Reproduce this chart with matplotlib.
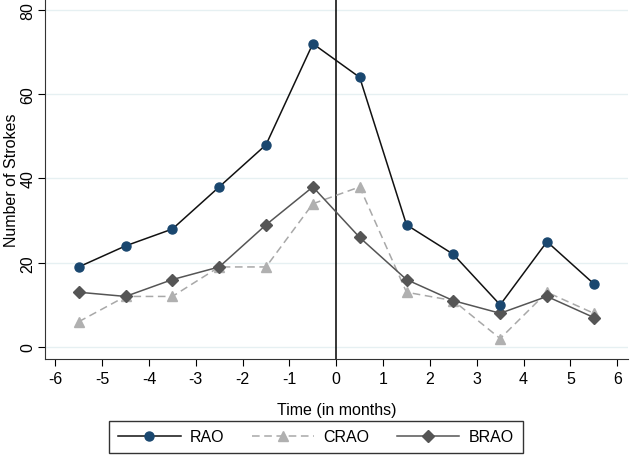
import numpy as np
import matplotlib
matplotlib.use("Agg")
import matplotlib.pyplot as plt

plt.rcParams['font.family'] = ['Liberation Sans', 'DejaVu Sans']

months = [-5.5, -4.5, -3.5, -2.5, -1.5, -0.5, 0.5, 1.5, 2.5, 3.5, 4.5, 5.5]
rao = [19, 24, 28, 38, 48, 72, 64, 29, 22, 10, 25, 15]
crao = [6, 12, 12, 19, 19, 34, 38, 13, 11, 2, 13, 8]
brao = [13, 12, 16, 19, 29, 38, 26, 16, 11, 8, 12, 7]
xticks = list(range(-6, 7))
yticks = [0, 20, 40, 60, 80]

fig = plt.figure(figsize=(6.3, 4.56), dpi=100)
ax = fig.add_axes([45/630, 96/456, 583/630, 360/456])

for y in yticks:
    ax.axhline(y, color='#e6f0f2', lw=1, zorder=0)
ax.axvline(0, color='black', lw=1.1, zorder=1)

ax.plot(months, rao, color='#111111', lw=1.1, marker='o', ms=6.5,
        mfc='#1a476f', mec='#1a476f', label='RAO', zorder=3)
ax.plot(months, crao, color='#a8a8a8', lw=1.1, ls=(0, (5, 3)), marker='^', ms=7,
        mfc='#b0b0b0', mec='#b0b0b0', label='CRAO', zorder=2)
ax.plot(months, brao, color='#555555', lw=1.1, marker='D', ms=6.5,
        mfc='#555555', mec='#555555', label='BRAO', zorder=2)

ax.set_xlim(-6.22, 6.23)
ax.set_ylim(-2.85, 82.6)
ax.set_xticks(xticks)
ax.set_xticklabels([str(t) for t in xticks])
ax.set_yticks(yticks)
ax.set_yticklabels([str(t) for t in yticks], rotation=90, va='center')
ax.tick_params(labelsize=11.5, colors='black', length=5)
ax.tick_params(axis='y', pad=2)
ax.tick_params(axis='x', pad=4)

for s in ['top', 'right']:
    ax.spines[s].set_visible(False)
for s in ['left', 'bottom']:
    ax.spines[s].set_color('#333333')

ax.set_xlabel('Time (in months)', fontsize=11.5, labelpad=11)
ax.set_ylabel('Number of Strokes', fontsize=11.5, labelpad=1)

leg = fig.legend(loc='center', bbox_to_anchor=(316/630, 18/456), ncol=3,
                 fontsize=11.5, frameon=True, fancybox=False, edgecolor='black',
                 handlelength=3.9, handletextpad=0.6, columnspacing=1.7,
                 borderpad=0.55, borderaxespad=0)
leg.get_frame().set_linewidth(1)

fig.savefig('out.png', dpi=100)
